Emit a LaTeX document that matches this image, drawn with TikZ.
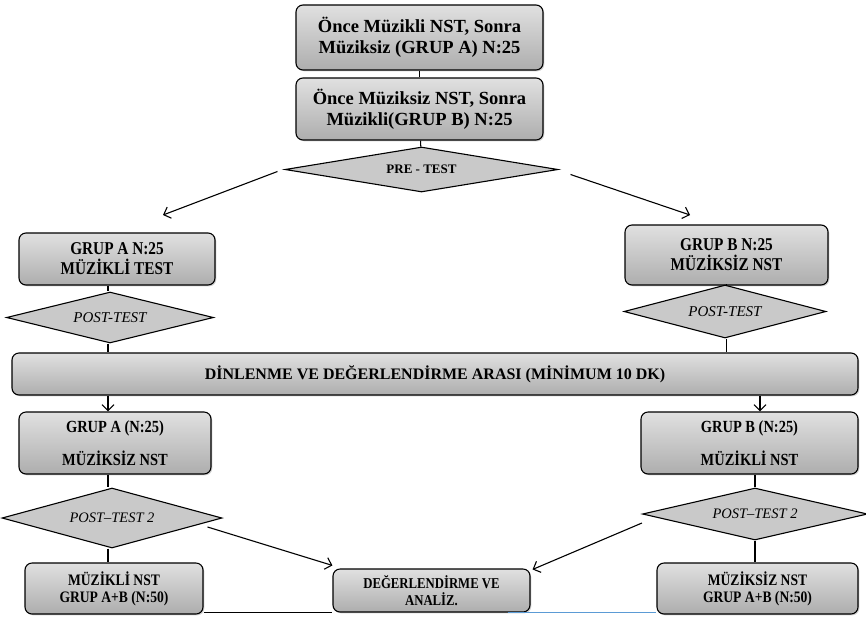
\documentclass[tikz,border=0pt]{standalone}
\usepackage{fontspec}
\setmainfont{Liberation Serif}
\newfontfamily\condfont[FakeStretch=0.85]{Liberation Serif}
\usetikzlibrary{arrows.meta, positioning, shapes.geometric, shadows}
\definecolor{lineblue}{RGB}{91,155,213}

\begin{document}
\begin{tikzpicture}[
    x=1pt, y=-1pt,
    >={Straight Barb[length=6pt,width=12pt]},
    line width=1.1pt,
    box/.style={
        rectangle,
        draw,
        rounded corners=7pt,
        top color=black!12,
        middle color=black!3,
        bottom color=black!32,
        drop shadow={shadow xshift=1.3pt, shadow yshift=-1.3pt, opacity=0.35},
        align=center,
        inner sep=2pt
    },
    decision/.style={
        diamond,
        draw,
        fill=black!21,
        aspect=4,
        inner sep=0pt,
        font=\itshape\fontsize{15}{17}\selectfont
    }
]
\useasboundingbox (0,0) rectangle (866,619);

% Nodes
\node[box, minimum width=247, minimum height=65, font=\bfseries\fontsize{18.5}{21}\selectfont]
    (grpA) at (419.5,37.5) {Önce Müzikli NST, Sonra\\Müziksiz (GRUP A) N:25};
\node[box, minimum width=247, minimum height=62, font=\bfseries\fontsize{18.5}{21}\selectfont]
    (grpB) at (419.5,109) {Önce Müziksiz NST, Sonra\\Müzikli(GRUP B) N:25};
\node[decision, minimum width=273, minimum height=45, font=\bfseries\fontsize{13}{15}\selectfont]
    (pre) at (421.5,169.5) {PRE - TEST};

\node[box, minimum width=196, minimum height=52, font=\condfont\bfseries\fontsize{18}{20}\selectfont]
    (aTest) at (117,259) {GRUP A N:25\\MÜZİKLİ TEST};
\node[box, minimum width=203, minimum height=60, font=\condfont\bfseries\fontsize{18}{20}\selectfont]
    (bTest) at (726.5,255) {GRUP B N:25\\MÜZİKSİZ NST};
\node[decision, minimum width=207, minimum height=51] (aPost) at (110,317.5) {POST-TEST};
\node[decision, minimum width=202, minimum height=53] (bPost) at (725,311.5) {POST-TEST};

\node[box, minimum width=846, minimum height=42, font=\bfseries\fontsize{16}{18}\selectfont]
    (rest) at (435,374) {DİNLENME VE DEĞERLENDİRME ARASI (MİNİMUM 10 DK)};

\node[box, minimum width=192, minimum height=62, font=\condfont\bfseries\fontsize{17}{19}\selectfont]
    (aNoMus) at (115,443) {GRUP A (N:25)\\[14pt]MÜZİKSİZ NST};
\node[box, minimum width=217, minimum height=62, font=\condfont\bfseries\fontsize{17}{19}\selectfont]
    (bMus) at (749.5,443) {GRUP B (N:25)\\[14pt]MÜZİKLİ NST};
\node[decision, minimum width=220, minimum height=60, font=\itshape\fontsize{14.5}{17}\selectfont]
    (aPost2) at (112,518) {POST–TEST 2};
\node[decision, minimum width=225, minimum height=52, font=\itshape\fontsize{14.5}{17}\selectfont]
    (bPost2) at (755,514) {POST–TEST 2};

\node[box, minimum width=178, minimum height=51, font=\condfont\bfseries\fontsize{16}{17}\selectfont]
    (musAll) at (114,588.5) {MÜZİKLİ NST\\GRUP A+B (N:50)};
\node[box, minimum width=201, minimum height=51, font=\condfont\bfseries\fontsize{16}{17}\selectfont]
    (noMusAll) at (757.5,588.5) {MÜZİKSİZ NST\\GRUP A+B (N:50)};
\node[box, minimum width=197, minimum height=43, font=\condfont\bfseries\fontsize{15}{16.5}\selectfont]
    (eval) at (431.5,590.5) {DEĞERLENDİRME VE\\ANALİZ.};

\coordinate (preLend) at (163,215);
\coordinate (preRend) at (690,215);
\coordinate (colA) at (108,0);
\coordinate (colB) at (760,0);

% Edges
\draw (grpA) -- (grpB);
\draw (grpB) -- (pre);
\draw[->] ([xshift=-7pt,yshift=-2pt]pre.west) -- (preLend);
\draw[->] ([xshift=12pt,yshift=-5pt]pre.east) -- (preRend);

\draw (colA |- aTest.south) -- (colA |- aPost.north);
\draw (colA |- aPost.south) -- (colA |- rest.north);
\draw (bTest.south) -- (bTest.south |- bPost.north);
\draw (bTest.south |- bPost.south) -- (bTest.south |- rest.north);

\draw[->] (colA |- rest.south) -- (colA |- aNoMus.north);
\draw[->] (colB |- rest.south) -- (colB |- bMus.north);

\draw (colA |- aNoMus.south) -- (colA |- aPost2.north);
\draw (colA |- aPost2.south) -- (colA |- musAll.north);
\draw (bPost2.north) -- (bPost2.north |- bMus.south);
\draw (bPost2.south) -- (bPost2.south |- noMusAll.north);

\draw[->] ([xshift=-15pt,yshift=-9pt]aPost2.east) -- ([yshift=3pt]eval.north west);
\draw[->] ([yshift=-9pt]bPost2.west) -- ([xshift=2pt,yshift=-1pt]eval.north east);

\draw ([yshift=2pt]musAll.south east) -- (eval.south west);
\draw[lineblue, line width=0.6pt] ([xshift=-23pt]eval.south east) -- ([yshift=2pt]noMusAll.south west);

\end{tikzpicture}
\end{document}
